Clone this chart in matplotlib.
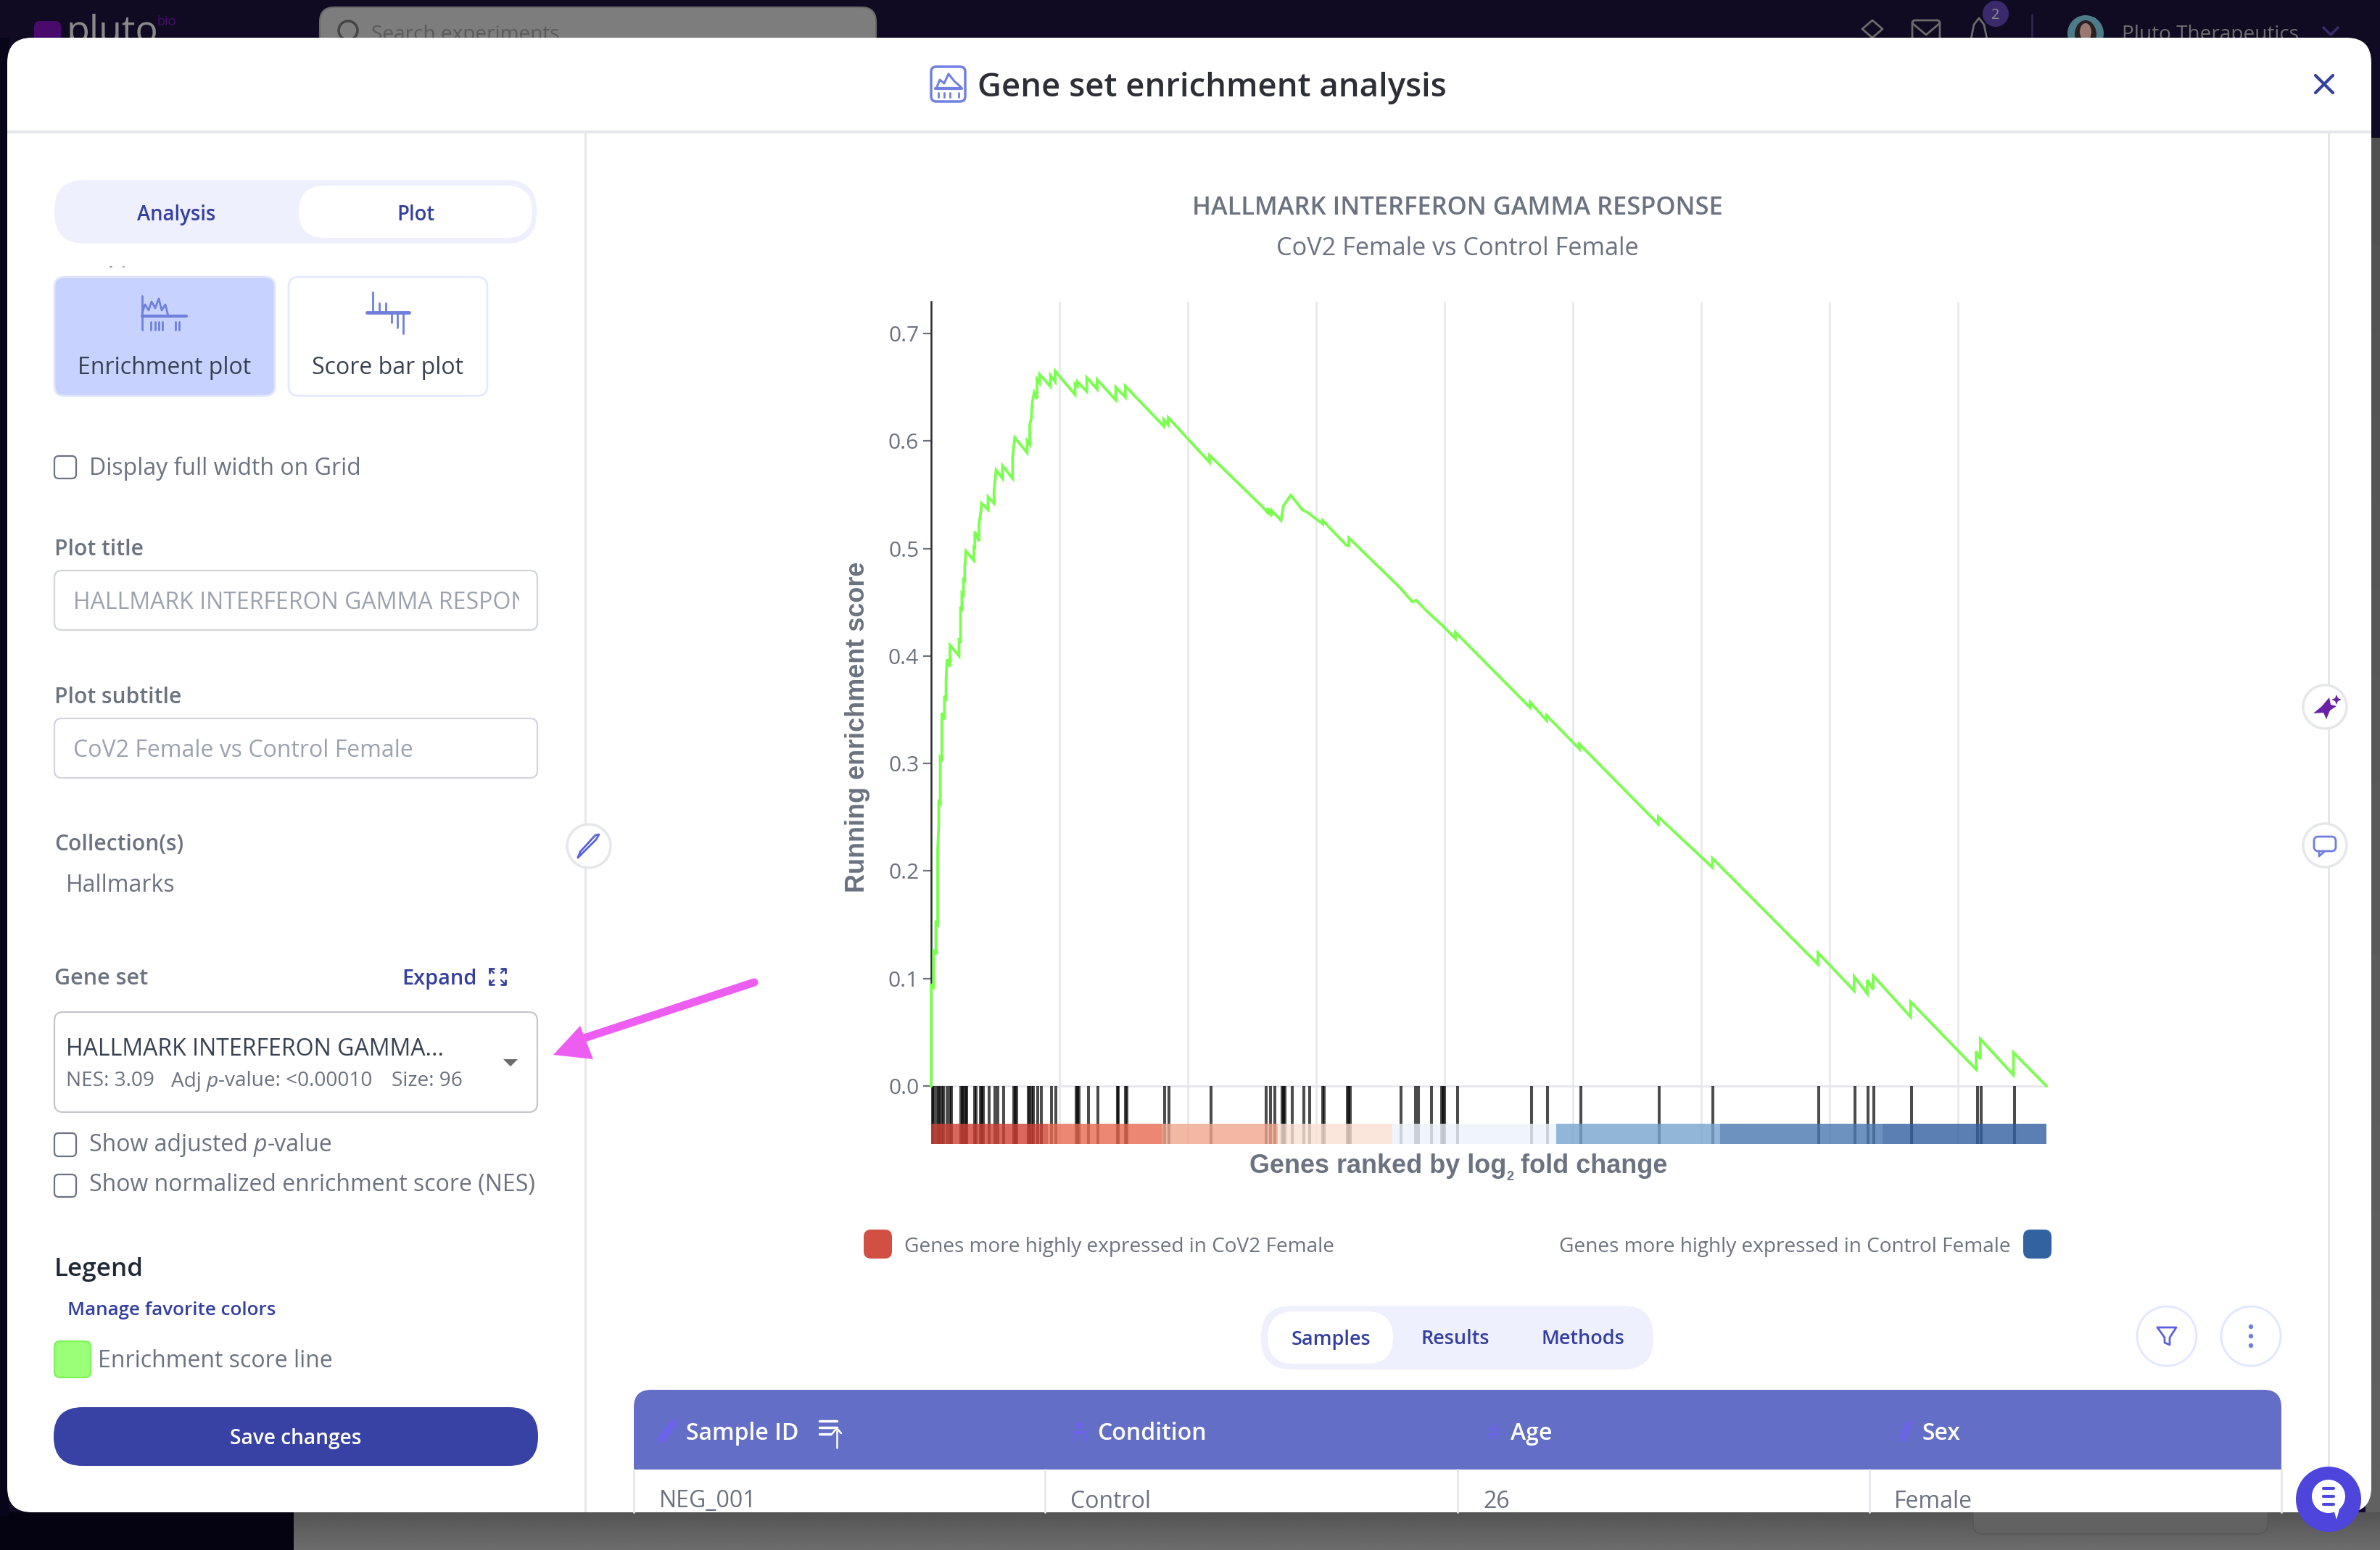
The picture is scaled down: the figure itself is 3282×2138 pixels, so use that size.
import numpy as np
import matplotlib
matplotlib.use("Agg")
import matplotlib.pyplot as plt
from matplotlib.patches import FancyBboxPatch, Circle, Ellipse, Polygon, Rectangle

plt.rcParams['font.family'] = ['Open Sans', 'DejaVu Sans']

# running enrichment score
curve_rank = [0, 0, 37, 37, 73, 73, 102, 102, 119, 119, 142, 142, 167, 167, 208, 208, 232, 232, 249, 294, 294,
              435, 435, 459, 459, 479, 479, 504, 504, 524, 524, 542, 666, 666, 681, 681, 746, 746, 779, 786,
              887, 887, 980, 980, 1012, 1113, 1113, 1270, 1270, 1303, 1496, 1496, 1537, 1537, 1559, 1577, 1605,
              1650, 1650, 1690, 1690, 1860, 1860, 1932, 1932, 2243, 2243, 2279, 2279, 2425, 2425, 2587, 2587,
              2877, 2877, 3026, 3026, 3627, 3627, 3695, 3695, 4339, 4339, 5175, 5238, 5238, 5306, 5306, 5451,
              5492, 5605, 5782, 5865, 6102, 6102, 6471, 6509, 6509, 7277, 7500, 7556, 7771, 7955, 8170, 8170,
              9334, 9334, 9590, 9590, 10102, 10102, 11331, 11331, 12175, 12175, 13818, 13818, 14383, 14383,
              14588, 14588, 14678, 14678, 15262, 15262, 16283, 16283, 16348, 16348, 16864, 16864, 17379]
curve_es = [0, .095, .090, .127, .122, .154, .148, .220, .243, .264, .2625, .3057, .304, .347, .341, .363, .358,
            .3775, .397, .390, .410, .400, .4167, .412, .446, .4415, .4585, .457, .473, .4686, .483, .4976, .4888,
            .503, .499, .5158, .5066, .5226, .536, .542, .536, .548, .542, .5538, .573, .565, .577, .565, .585,
            .603, .589, .600, .5966, .6156, .620, .636, .645, .639, .6574, .654, .662, .6505, .661, .655, .665,
            .643, .653, .651, .655, .646, .659, .648, .657, .638, .650, .6406, .651, .6136, .620, .615, .6217,
            .580, .5866, .538, .5336, .5374, .530, .5354, .526, .540, .5496, .536, .5335, .5228, .526, .503,
            .5024, .5098, .4652, .4504, .4518, .439, .429, .4162, .422, .352, .357, .340, .3447, .3135, .318,
            .2436, .2504, .2032, .2117, .1133, .124, .0885, .1018, .0858, .0987, .0897, .1027, .0643, .0784,
            .0155, .0324, .025, .0438, .0103, .0312, 0]

# rank of each gene set member
hit_ranks = [18, 38, 78, 108, 139, 169, 189, 245, 290, 315, 462, 487, 512, 537, 552, 673, 704, 764, 789, 815,
             900, 996, 1037, 1127, 1284, 1309, 1329, 1516, 1541, 1571, 1597, 1662, 1713, 1879, 1940, 2258, 2283,
             2308, 2449, 2596, 2903, 2919, 3024, 3050, 3640, 3706, 4361, 5224, 5290, 5355, 5466, 5491, 5517,
             5628, 5804, 5895, 6107, 6122, 6485, 6511, 6531, 7323, 7549, 7588, 7796, 7958, 7977, 7997, 8198,
             9353, 9606, 10125, 11344, 12181, 13829, 14393, 14601, 14685, 15275, 16300, 16365, 16877]

# fold change colour bar, edges in gene rank
bar_edges = [0, 1814, 3600, 5396, 7192, 9742, 12291, 14828, 17379]
bar_colors = ['#cf4136', '#e76950', '#efa68e', '#f9e0d3', '#edf3fc', '#77a4ce', '#4a77b0', '#335fa0']

grid_ranks = [2000, 4000, 6000, 8000, 10000, 12000, 14000, 16000]
y_ticks = [0.0, 0.1, 0.2, 0.3, 0.4, 0.5, 0.6, 0.7]

INDIGO = '#343f9f'
GREY = '#6b7280'
LINE = '#e5e7eb'
W, H = 3282, 2138

fig = plt.figure(figsize=(W / 100, H / 100), dpi=100, facecolor='#100a22')
ui = fig.add_axes([0, 0, 1, 1])
ui.set_xlim(0, W)
ui.set_ylim(H, 0)
ui.axis('off')


def pt(px):
    return px * 0.72


def box(x0, y0, x1, y1, r=0, fc='white', ec='none', lw=0, z=3):
    p = FancyBboxPatch((x0 + r, y0 + r), x1 - x0 - 2 * r, y1 - y0 - 2 * r,
                       boxstyle=f'round,pad={r},rounding_size={r}' if r else 'square,pad=0',
                       fc=fc, ec=ec, lw=lw, zorder=z)
    ui.add_patch(p)
    return p


def label(x, y, s, size=32, color=GREY, ha='left', weight='normal', z=4, **kw):
    return ui.text(x, y, s, fontsize=pt(size), color=color, ha=ha, va='center_baseline',
                   fontweight=weight, zorder=z, **kw)


def run(x, y, parts, size=28, color=GREY):
    # text pieces one after the other, for the italic p
    rend = fig.canvas.get_renderer()
    for s, style in parts:
        t = label(x, y, s, size, color, style=style)
        x += t.get_window_extent(rend).width
    return x


def seg(xs, ys, color, lw=2.0, z=4):
    ui.plot(xs, ys, color=color, lw=lw, zorder=z, solid_capstyle='round', solid_joinstyle='round')


def checkbox(y0, y1):
    box(75, y0, 105, y1, 6, 'white', '#6b7280', 1.6)


def backdrop():
    grad = np.linspace(0.33, 0.43, 64).reshape(-1, 1)
    ui.imshow(grad, extent=(405, W, H, 2086), cmap='gray', vmin=0, vmax=1, aspect='auto', zorder=1)
    grad = np.linspace(0.32, 0.38, 64).reshape(-1, 1)
    ui.imshow(grad, extent=(3262, W, 2086, 190), cmap='gray', vmin=0, vmax=1, aspect='auto', zorder=1)
    ui.add_patch(Rectangle((0, 2086), 405, 52, fc='#050311', ec='none', zorder=1))
    ui.add_patch(Rectangle((0, 52), 12, 2040, fc='#07051a', ec='none', zorder=1))
    box(2721, 2060, 3127, 2116, 14, '#626262', '#565656', 1, z=1.5)
    # navbar behind the dialog
    box(47, 29, 84, 70, 8, '#4a0a6b', z=1)
    label(92, 38, 'pluto', 52, '#8a8a8a', z=1.2)
    label(217, 28, 'bio', 18, '#4a0a6b', z=1.2)
    box(441, 10, 1208, 70, 20, '#7d7d7d', '#6a6a6a', 1.5, z=1)
    ui.add_patch(Circle((480, 42), 13, fc='none', ec='#444444', lw=2.5, zorder=1.2))
    label(512, 44, 'Search experiments', 28, '#5a5a5a', z=1.2)
    seg([2568, 2582, 2596, 2582, 2568], [40, 28, 40, 52, 40], '#6b6b6b', 2, 1.2)
    box(2637, 28, 2675, 60, 4, 'none', '#6b6b6b', 2, z=1.2)
    seg([2637, 2656, 2675], [32, 48, 32], '#6b6b6b', 2, 1.2)
    seg([2718, 2722, 2729, 2736, 2740], [54, 34, 25, 34, 54], '#6b6b6b', 2, 1.2)
    ui.add_patch(Circle((2752, 19), 18, fc='#3b2a6b', ec='none', zorder=1.2))
    label(2752, 19, '2', 20, '#8f8f8f', ha='center', z=1.3)
    seg([2802, 2802], [20, 52], '#2f2550', 2, 1.2)
    ui.add_patch(Circle((2876, 46), 25, fc='#4c7b8a', ec='none', zorder=1.2))
    ui.add_patch(Ellipse((2876, 48), 30, 40, fc='#2a2022', ec='none', zorder=1.3))
    ui.add_patch(Ellipse((2876, 44), 16, 24, fc='#9a7a70', ec='none', zorder=1.4))
    label(2926, 44, 'Pluto Therapeutics', 28, '#6f6f6f', z=1.2)
    seg([3204, 3214, 3224], [38, 48, 38], '#3b2a6b', 2.5, 1.2)


def sidebar():
    # plot/analysis switch
    box(75, 248, 740, 336, 42, '#eef0fd')
    box(412, 256, 734, 328, 36, 'white')
    label(243, 293, 'Analysis', 27.5, INDIGO, ha='center', weight='semibold')
    label(573, 293, 'Plot', 27.5, INDIGO, ha='center', weight='semibold')
    seg([152, 154], [368, 368], '#777777', 1.2)
    seg([170, 171], [368, 368], '#777777', 1.2)

    box(75, 382, 379, 546, 14, '#c7d2fe', '#dfe5ff', 2)
    box(398, 382, 672, 546, 14, 'white', '#e4e9ff', 2)
    ic = '#6f7fdc'
    seg([196, 196], [408, 455], ic, 2)
    seg([196, 200, 205, 209, 214, 219, 223, 228, 232, 246, 196],
        [432, 420, 428, 416, 425, 412, 428, 420, 436, 436, 436], ic, 2)
    seg([196, 257], [436, 436], ic, 3)
    for x in [208, 214, 219, 224, 242, 247]:
        seg([x, x], [444, 455], ic, 2)
    seg([514, 514], [403, 430], ic, 2)
    seg([523, 523], [418, 430], ic, 2)
    seg([532, 532], [418, 430], ic, 2)
    seg([506, 564], [431, 431], ic, 3.5)
    seg([540, 540], [431, 445], ic, 2)
    seg([548, 548], [431, 452], ic, 2)
    seg([556, 556], [431, 460], ic, 2)
    label(227, 504, 'Enrichment plot', 32, '#374151', ha='center')
    label(535, 504, 'Score bar plot', 32, '#374151', ha='center')

    checkbox(629, 660)
    label(123, 642, 'Display full width on Grid')

    label(75, 754, 'Plot title', 30, weight='semibold')
    box(75, 787, 741, 869, 10, 'white', '#d1d5db', 1.6)
    t = label(101, 828, 'HALLMARK INTERFERON GAMMA RESPONSE', 32, '#9ca3af')
    t.set_clip_path(Rectangle((101, 787), 615, 82, transform=ui.transData))
    t.set_clip_on(True)

    label(75, 958, 'Plot subtitle', 30, weight='semibold')
    box(75, 991, 741, 1073, 10, 'white', '#d1d5db', 1.6)
    label(101, 1031, 'CoV2 Female vs Control Female', 32, '#9ca3af')

    label(75, 1161, 'Collection(s)', 30, weight='semibold')
    label(91, 1218, 'Hallmarks')

    label(75, 1347, 'Gene set', 30.5, weight='semibold')
    label(554, 1347, 'Expand', 29, INDIGO, weight='semibold')
    for sx, sy in [(-1, -1), (1, -1), (-1, 1), (1, 1)]:
        cx, cy = 686 + sx * 11, 1347 + sy * 11
        seg([cx, cx, cx - sx * 6], [cy - sy * 6, cy, cy], INDIGO, 2)
        seg([cx, cx - sx * 6], [cy, cy - sy * 6], INDIGO, 1.6)

    box(75, 1396, 741, 1534, 12, 'white', '#c4c6ca', 1.6)
    label(91, 1444, 'HALLMARK INTERFERON GAMMA...', 32, '#374151')
    run(91, 1488, [('NES: 3.09', 'normal')], 28)
    run(236, 1488, [('Adj ', 'normal'), ('p', 'italic'), ('-value: <0.00010', 'normal')], 28)
    run(540, 1488, [('Size: 96', 'normal')], 28)
    ui.add_patch(Polygon([[694, 1461], [714, 1461], [704, 1471]], fc='#6b6b6b', ec='none', zorder=4))

    # pink call-out arrow
    seg([1040, 790], [1355, 1437], '#ee5df2', 8, 6)
    ui.add_patch(Polygon([[763, 1455], [800, 1415], [818, 1461]], fc='#ee5df2', ec='none', zorder=6))

    checkbox(1563, 1595)
    run(123, 1575, [('Show adjusted ', 'normal'), ('p', 'italic'), ('-value', 'normal')], 32)
    checkbox(1620, 1651)
    label(123, 1631, 'Show normalized enrichment score (NES)')

    label(75, 1747, 'Legend', 35, '#1f2937', weight='semibold')
    label(93, 1805, 'Manage favorite colors', 26, INDIGO, weight='semibold')
    box(75, 1850, 125, 1900, 8, '#9cff78', '#7bf55a', 1.6)
    label(135, 1874, 'Enrichment score line')
    box(74, 1941, 742, 2022, 40, '#3841a4')
    label(408, 1981, 'Save changes', 28, 'white', ha='center', weight='semibold')

    # edit button on the divider
    ui.add_patch(Circle((812, 1167), 30, fc='white', ec=LINE, lw=2.5, zorder=5))
    seg([797, 800, 821, 826, 822, 800, 797], [1183, 1175, 1152, 1151, 1158, 1180, 1183], '#5a62e0', 2, 6)


def header():
    box(1284, 92, 1331, 140, 7, 'white', '#7180e0', 2.5)
    seg([1292, 1296, 1302, 1308, 1316, 1325], [120, 110, 115, 102, 112, 120], '#7180e0', 2.2)
    seg([1290, 1326], [122, 122], '#7180e0', 3)
    for x in [1294, 1302, 1310, 1322]:
        seg([x, x], [128, 134], '#7180e0', 2)
    label(1348, 116, 'Gene set enrichment analysis', 45.5, '#2d2f36', weight='semibold')
    seg([3193, 3217], [104, 128], INDIGO, 3)
    seg([3193, 3217], [128, 104], INDIGO, 3)


def chart_text():
    label(2010, 283, 'HALLMARK INTERFERON GAMMA RESPONSE', 34.5, GREY, ha='center', weight='semibold')
    label(2010, 339, 'CoV2 Female vs Control Female', 34.3, GREY, ha='center')
    box(1191, 1696, 1230, 1736, 10, '#d14f43')
    label(1247, 1716, 'Genes more highly expressed in CoV2 Female', 28)
    box(2790, 1696, 2829, 1736, 10, '#3362a0')
    label(2773, 1716, 'Genes more highly expressed in Control Female', 28, ha='right')


def lower_panel():
    box(1739, 1801, 2280, 1889, 42, '#eef0fd')
    box(1748, 1809, 1921, 1881, 36, 'white')
    label(1835, 1844, 'Samples', 27, INDIGO, ha='center', weight='semibold')
    label(2007, 1844, 'Results', 27, INDIGO, ha='center', weight='semibold')
    label(2183, 1844, 'Methods', 27, INDIGO, ha='center', weight='semibold')
    for cx in [2988, 3104]:
        ui.add_patch(Circle((cx, 1843), 41, fc='white', ec='#e0e7ff', lw=2, zorder=3))
    seg([2975, 3001, 2992, 2992, 2985, 2985, 2975], [1831, 1831, 1845, 1855, 1852, 1845, 1831], '#5a62e0', 2)
    for dy in [-13, 0, 13]:
        ui.add_patch(Circle((3104, 1843 + dy), 3.2, fc='#6f7fdc', ec='none', zorder=4))

    # table, cut off at the dialog edge
    ui.add_patch(Rectangle((874, 2027), 2272, 59, fc='white', ec='none', zorder=3))
    box(874, 1917, 3146, 1980, 24, '#636ec6')
    ui.add_patch(Rectangle((874, 1950), 2272, 77, fc='#636ec6', ec='none', zorder=3))
    for x in [874, 1441, 2010, 2578, 3146]:
        seg([x, x], [2027, 2086], LINE, 2, 3.5)
    label(946, 1973, 'Sample ID', 32, 'white', weight='semibold')
    label(1513, 1973, 'Condition', 32, 'white', weight='semibold')
    label(2083, 1973, 'Age', 32, 'white', weight='semibold')
    label(2650, 1973, 'Sex', 32, 'white', weight='semibold')
    icon = '#6b63ea'
    seg([912, 928], [1985, 1964], icon, 8)
    ui.add_patch(Circle((1489, 1966), 5, fc=icon, ec='none', zorder=4))
    seg([1482, 1482, 1496, 1496], [1986, 1976, 1976, 1986], icon, 3)
    label(2059, 1974, '#', 30, icon, ha='center')
    seg([2620, 2630], [1986, 1962], icon, 3)
    seg([2626, 2636], [1986, 1962], icon, 3)
    for dy, x1 in [(-14, 1154), (-5, 1154), (4, 1146)]:
        seg([1130, x1], [1974 + dy, 1974 + dy], 'white', 2.5)
    seg([1154, 1154], [1970, 1997], 'white', 1.8)
    seg([1148, 1154, 1160], [1977, 1970, 1977], 'white', 1.8)
    label(909, 2067, 'NEG_001', 32)
    label(1476, 2067, 'Control', 32)
    label(2045, 2067, '26', 32)
    label(2612, 2067, 'Female', 32)


def floating():
    ui.add_patch(Circle((3206, 975), 30, fc='white', ec=LINE, lw=2.5, zorder=5))
    ui.add_patch(Polygon([[3212, 962], [3214, 972], [3222, 974], [3213, 980], [3208, 992],
                          [3204, 983], [3190, 984], [3202, 974]], fc='#6b21a8', ec='none', zorder=6))
    ui.add_patch(Polygon([[3222, 958], [3224, 963], [3229, 965], [3224, 967], [3222, 972],
                          [3220, 967], [3215, 965], [3220, 963]], fc='#6b21a8', ec='none', zorder=6))
    ui.add_patch(Circle((3206, 1166), 30, fc='white', ec=LINE, lw=2.5, zorder=5))
    box(3191, 1154, 3221, 1174, 6, 'white', '#6f7fdc', 2, z=6)
    seg([3198, 3198, 3206], [1174, 1181, 1174], '#6f7fdc', 2, 6)
    ui.add_patch(Ellipse((3211, 2068), 90, 90, fc='#4d45dc', ec='none', zorder=7))
    ui.add_patch(Ellipse((3211, 2064), 46, 46, fc='white', ec='none', zorder=8))
    ui.add_patch(Polygon([[3218, 2082], [3226, 2082], [3222, 2096]], fc='white', ec='none', zorder=8))
    for dy in [-11, 0, 11]:
        seg([3204, 3218], [2064 + dy, 2064 + dy], '#4d45dc', 3, 9)


backdrop()
# dialog
box(10, 52, 3270, 2086, 34, 'white', z=2)
ui.add_patch(Rectangle((10, 180), 3260, 4, fc=LINE, ec='none', zorder=2.5))
ui.add_patch(Rectangle((806, 184), 3, 1902, fc=LINE, ec='none', zorder=2.5))
ui.add_patch(Rectangle((3210, 184), 3, 1902, fc=LINE, ec='none', zorder=2.5))
sidebar()
header()
chart_text()
lower_panel()
floating()

# the enrichment plot itself
ax_l, ax_r, ax_t, ax_b = 1284, 2822, 416, 1578
ax = fig.add_axes([ax_l / W, 1 - ax_b / H, (ax_r - ax_l) / W, (ax_b - ax_t) / H], zorder=5)
ax.patch.set_alpha(0)
ax.set_xlim(0, 17379)
ax.set_ylim(-0.0539, 0.7296)

ax.vlines(grid_ranks, -0.0539, 0.7296, color=LINE, lw=1.8, zorder=1)
ax.axhline(0, color=LINE, lw=2, zorder=1)
ax.vlines(hit_ranks, -0.0539, 0, color='black', alpha=0.7, lw=2.9, zorder=2)
ax.bar(bar_edges[:-1], 0.0189, width=np.diff(bar_edges), bottom=-0.0539, align='edge',
       color=bar_colors, alpha=0.8, lw=0, zorder=3)
ax.plot(curve_rank, curve_es, color='#79ff4d', lw=2.7, zorder=4, solid_joinstyle='miter', clip_on=False)

for side in ['top', 'right', 'bottom']:
    ax.spines[side].set_visible(False)
ax.spines['left'].set_bounds(0, 0.7296)
ax.spines['left'].set_color('#2b2d33')
ax.spines['left'].set_linewidth(1.8)
ax.set_xticks([])
ax.set_yticks(y_ticks)
ax.set_yticklabels([f'{v:.1f}' for v in y_ticks], fontsize=pt(30), color=GREY)
ax.tick_params(axis='y', length=8, width=1.6, color=GREY, pad=4)

ui.text(1182, 1003, 'Running enrichment score', rotation=90, fontsize=pt(36), color=GREY, ha='center',
        va='center', family='Liberation Sans', fontweight='bold', zorder=4)

# x title with a small subscript, set piece by piece
rend = fig.canvas.get_renderer()
xpos = 1723
for piece, size, ypos in [('Genes ranked by log', 36, 1605), ('2', 18, 1621), (' fold change', 36, 1605)]:
    t = ui.text(xpos, ypos, piece.replace(' ', '\u00a0'), fontsize=pt(size), color=GREY, ha='left',
                va='center_baseline', family='Liberation Sans', fontweight='bold', zorder=4)
    xpos += t.get_window_extent(rend).width

fig.savefig('out.png', dpi=100, facecolor=fig.get_facecolor())
